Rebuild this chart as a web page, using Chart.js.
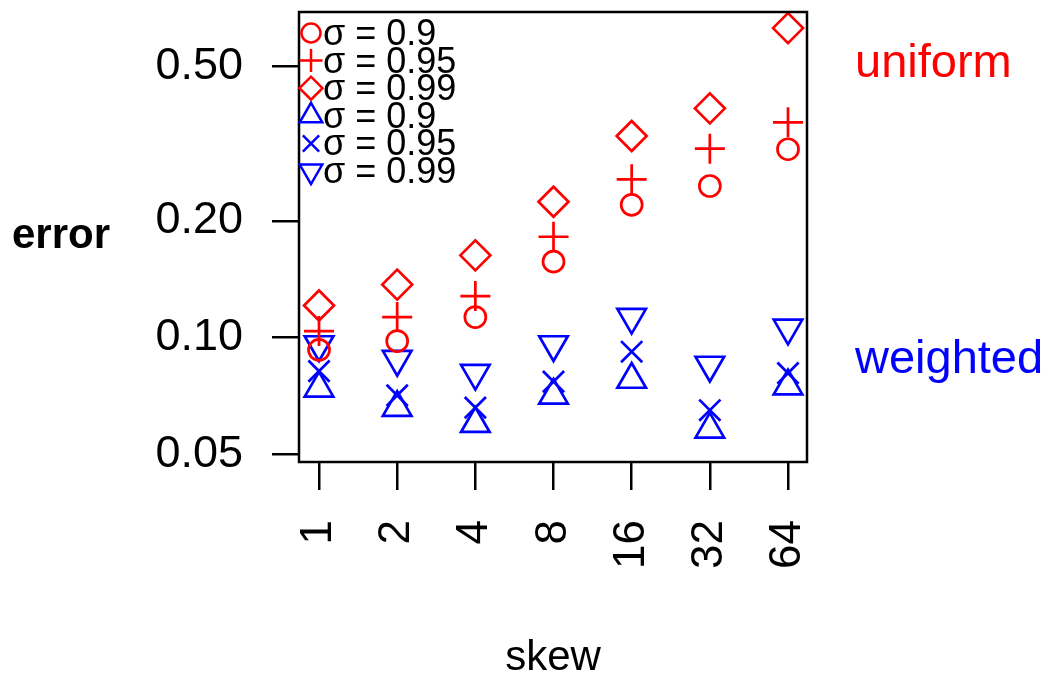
<!DOCTYPE html>
<html>
<head>
<meta charset="utf-8">
<script src="https://cdn.jsdelivr.net/npm/chart.js@4"></script>
<style>
  html, body { margin: 0; padding: 0; background: #fff; }
  #wrap { width: 1048px; height: 675px; }
</style>
</head>
<body>
<div id="wrap"><canvas id="errChart" width="1048" height="675"></canvas></div>
<script>
// skew categories, plotted at positions 1..7
var skewLabels = ['1', '2', '4', '8', '16', '32', '64'];
var skewPos = [1, 2, 3, 4, 5, 6, 7];
var yTicks = [0.05, 0.10, 0.20, 0.50];

// uniform sampling error
var uniform90 = [0.093, 0.098, 0.113, 0.157, 0.220, 0.246, 0.306];
var uniform95 = [0.104, 0.113, 0.128, 0.182, 0.256, 0.307, 0.359];
var uniform99 = [0.121, 0.137, 0.163, 0.224, 0.331, 0.390, 0.628];
// weighted sampling error
var weighted90 = [0.074, 0.066, 0.060, 0.071, 0.078, 0.058, 0.075];
var weighted95 = [0.082, 0.071, 0.066, 0.077, 0.092, 0.065, 0.081];
var weighted99 = [0.096, 0.088, 0.081, 0.096, 0.113, 0.085, 0.106];

var RED = 'rgb(255, 0, 0)';
var BLUE = 'rgb(0, 0, 255)';
var FONT = '"Liberation Sans", Arial, sans-serif';

const toPoints = (vals) => vals.map((v, i) => ({ x: skewPos[i], y: v }));

// style, radius in plot, radius in legend, rotation
function series(label, vals, color, style, r, lr, rot) {
  return {
    label: label,
    data: toPoints(vals),
    pointStyle: style,
    pointRadius: r,
    legendRadius: lr,
    pointRotation: rot || 0,
    borderColor: color,
    backgroundColor: 'rgba(0,0,0,0)',
    pointBorderWidth: 2.7,
    showLine: false,
    clip: false
  };
}

// no extra room for half labels, the plot box is fixed
const noMargins = (s) => {
  s.paddingLeft = 0; s.paddingRight = 0; s.paddingTop = 0; s.paddingBottom = 0;
};

const frameAndText = {
  id: 'frameAndText',
  afterDraw(chart) {
    const ctx = chart.ctx, a = chart.chartArea;
    ctx.save();
    ctx.strokeStyle = '#000';
    ctx.lineWidth = 2.5;
    ctx.strokeRect(a.left, a.top, a.right - a.left, a.bottom - a.top);

    // legend in upper left of the plot
    ctx.font = '36px ' + FONT;
    ctx.textAlign = 'left';
    ctx.textBaseline = 'alphabetic';
    chart.data.datasets.forEach((ds, i) => {
      var cy = 33 + i * 27.6;
      ctx.strokeStyle = ds.borderColor;
      ctx.fillStyle = 'rgba(0,0,0,0)';
      ctx.lineWidth = 2.5;
      Chart.helpers.drawPoint(ctx, {
        pointStyle: ds.pointStyle, radius: ds.legendRadius,
        rotation: ds.pointRotation, borderWidth: 2.5
      }, 311, cy);
      ctx.fillStyle = '#000';
      ctx.fillText(ds.label, 323, cy + 12);
    });

    ctx.font = 'bold 42px ' + FONT;
    ctx.fillStyle = '#000';
    ctx.fillText('error', 12, 248);

    ctx.font = '47px ' + FONT;
    ctx.fillStyle = RED;
    ctx.fillText('uniform', 855, 77);
    ctx.fillStyle = BLUE;
    ctx.fillText('weighted', 855, 373);
    ctx.restore();
  }
};

document.addEventListener('DOMContentLoaded', () => {
  var ctx = document.getElementById('errChart');
  var options = {
    type: 'scatter',
    data: {
      datasets: [
        series('σ = 0.9', uniform90, RED, 'circle', 10.5, 9.5),
        series('σ = 0.95', uniform95, RED, 'cross', 15, 11.5),
        series('σ = 0.99', uniform99, RED, 'rectRot', 15, 11.5),
        series('σ = 0.9', weighted90, BLUE, 'triangle', 16.5, 13),
        series('σ = 0.95', weighted95, BLUE, 'crossRot', 15, 11.5),
        series('σ = 0.99', weighted99, BLUE, 'triangle', 16.5, 13, 180)
      ]
    },
    options: {
      responsive: false,
      animation: false,
      events: [],
      layout: {
        autoPadding: false,
        padding: { left: 0, top: 12, right: 241, bottom: 0 }
      },
      scales: {
        x: {
          type: 'linear',
          min: 0.744,
          max: 7.243,
          afterBuildTicks: (s) => { s.ticks = skewPos.map((v) => ({ value: v })); },
          afterFit: (s) => { s.height = 213; noMargins(s); },
          ticks: {
            color: '#000',
            font: { family: FONT, size: 44 },
            padding: 30,
            minRotation: 90,
            maxRotation: 90,
            callback: (v) => skewLabels[skewPos.indexOf(v)]
          },
          grid: { display: true, drawOnChartArea: false, drawTicks: true, tickLength: 28, color: '#000', lineWidth: 2.5 },
          border: { display: false },
          title: {
            display: true,
            text: 'skew',
            color: '#000',
            font: { family: FONT, size: 42 },
            padding: { top: 0, bottom: -9 }
          }
        },
        y: {
          type: 'logarithmic',
          min: 0.0478,
          max: 0.691,
          afterBuildTicks: (s) => { s.ticks = yTicks.map((v) => ({ value: v })); },
          afterFit: (s) => { s.width = 299; noMargins(s); },
          ticks: {
            color: '#000',
            font: { family: FONT, size: 45 },
            padding: 29,
            callback: (v) => v.toFixed(2)
          },
          grid: { display: true, drawOnChartArea: false, drawTicks: true, tickLength: 27, color: '#000', lineWidth: 2.5 },
          border: { display: false }
        }
      },
      plugins: {
        legend: { display: false },
        title: { display: false },
        tooltip: { enabled: false }
      }
    },
    plugins: [frameAndText]
  };

  let errChart = new Chart(ctx, options);
});
</script>
</body>
</html>
